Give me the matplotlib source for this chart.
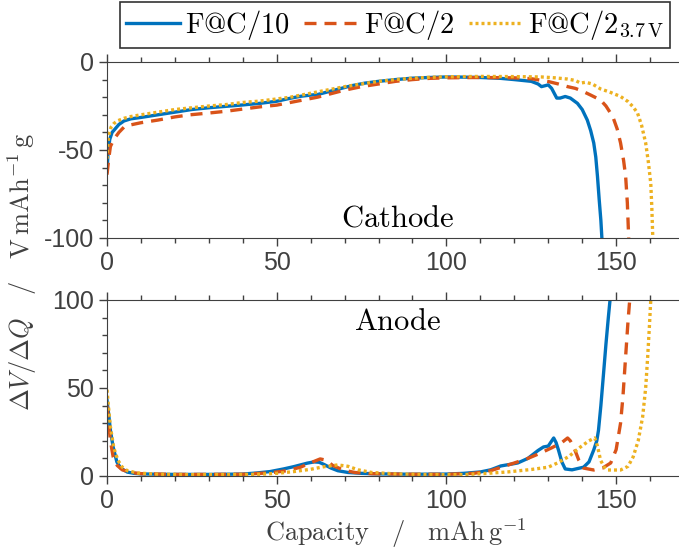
import numpy as np
import matplotlib
matplotlib.use("Agg")
import matplotlib.pyplot as plt

plt.rcParams['mathtext.fontset'] = 'cm'
plt.rcParams['font.family'] = ['Liberation Sans', 'DejaVu Sans']

# series labels / colours
labels = [r'$\mathrm{F@C/10}$', r'$\mathrm{F@C/2}$', r'$\mathrm{F@C/2_{3.7\,V}}$']
colors = ['#0072BD', '#D95319', '#EDB120']

# cathode dV/dQ (capacity, value)
cat_x_10 = [0, 0.3, 0.8, 1.5, 2.4, 3.5, 5, 7, 10, 15, 20, 25, 30, 35, 40, 45, 50, 54, 57, 60, 62, 65, 68,
            72, 76, 80, 85, 90, 95, 100, 105, 110, 116, 120, 125, 127, 128, 129, 130, 131, 132.5, 133.5,
            135, 136.5, 138.6, 140, 141.5, 142.5, 143.4, 144, 144.5, 145, 145.5, 145.8]
cat_y_10 = [-62, -52, -44, -40, -38, -35.5, -33.5, -32.3, -31.5, -30, -28.5, -27, -26, -25.2, -24.4, -23.5,
            -22.3, -20.6, -19.5, -18.8, -18.5, -17, -15.5, -13.5, -12, -11, -10, -9.2, -8.8, -8.5, -8.6,
            -8.8, -9.3, -10, -11, -12.5, -14, -13.5, -13, -15, -20.5, -20.5, -19.6, -20.5, -23.5, -27, -33,
            -39, -46, -54, -65, -78, -90, -100]
cat_x_2 = [0, 0.5, 1, 2, 3.5, 5, 6.8, 10, 15, 20, 24.5, 30, 35, 39, 45, 50, 54, 58, 62, 66, 70, 75, 80,
           85, 90, 95, 100, 110, 120, 125, 129.8, 133, 135.7, 138, 140, 142.5, 145.4, 147, 149, 150.3,
           151.3, 152.2, 152.8, 153.3, 153.7]
cat_y_2 = [-64, -55, -48, -44, -40, -37, -35.8, -34.5, -33, -31.2, -30, -29, -28, -27, -25.5, -24.5, -23,
           -21.5, -20, -18, -16, -14, -12.5, -11, -10, -9.3, -9, -8.8, -9, -9.5, -11, -12.5, -14, -15,
           -16.5, -18.8, -21.6, -25, -31, -38, -46, -56, -65, -80, -100]
cat_x_37 = [0, 0.3, 0.7, 1.2, 2, 3, 5, 7, 10, 15, 20, 25, 30, 35, 40, 45, 50, 54, 58, 62, 66, 70, 75, 80,
            85, 90, 95, 100, 110, 120, 128, 132, 135.7, 138, 139.5, 141, 143, 145.4, 148, 151.3, 153.5,
            155, 156.3, 157.5, 158.7, 159.5, 160.2, 160.5, 160.8]
cat_y_37 = [-55, -45, -40, -37, -35, -33.5, -32, -31, -30, -28.5, -27, -26, -25, -24.2, -23, -22.2, -21,
            -20, -18.5, -17, -15.5, -14, -12.5, -11, -10, -9.2, -8.7, -8.4, -8.2, -8.3, -8.5, -9, -9.7,
            -10.5, -12, -11.5, -12.5, -15.3, -17, -19.6, -22.5, -25.5, -29, -36, -46, -57, -69, -82, -100]

# anode dV/dQ
an_x_10 = [0, 0.5, 1, 1.8, 2.9, 4, 6, 8, 10, 15, 20, 30, 40, 44, 48, 52, 55, 57, 59, 61, 62.5, 64, 66, 68,
           71, 75, 80, 90, 100, 105, 110, 113, 116, 119, 121, 124, 127, 128.6, 130, 131.6, 132.3, 133,
           134, 135, 137, 140.4, 142, 143.4, 144.3, 144.8, 145.5, 146.3, 147, 147.7, 148.2]
an_y_10 = [43, 35, 26, 16.5, 8, 4.5, 2.2, 1.5, 1.2, 1, 0.9, 0.9, 1.1, 1.7, 2.5, 4, 5.3, 6.3, 7.3, 8, 7.8,
           6.5, 4.5, 3, 2, 1.5, 1.2, 1, 1.1, 1.5, 2.3, 3.5, 5.7, 6.7, 7.4, 10, 14.5, 16.5, 17, 21.6, 19,
           14.8, 8, 4, 3.5, 5, 8, 14.8, 20, 26, 40, 58.5, 75, 90, 100]
an_x_2 = [0, 0.5, 1, 1.8, 3, 4.5, 7, 10, 20, 30, 40, 48, 53, 57, 60, 62.8, 64.5, 66.5, 69.6, 73, 78, 90,
          100, 108, 113, 117, 120, 124, 127.7, 131, 134, 135.7, 136.5, 137.5, 139, 140.4, 143.4, 146,
          148.4, 150, 151.3, 152, 152.8, 153.5, 154]
an_y_2 = [40, 30, 20, 11, 6, 3.5, 2, 1.3, 0.9, 0.9, 1, 1.8, 3, 5, 7.5, 9.7, 9, 6, 3.4, 2, 1.3, 1, 1, 1.5,
          3, 5.5, 7.4, 10, 13, 16, 19, 21.6, 20, 16.5, 9, 4.5, 3.4, 4.5, 7.4, 15, 30, 45, 68, 88, 100]
an_x_37 = [0, 0.4, 1, 2, 3.2, 4.5, 6, 9, 15, 25, 35, 45, 50, 55, 60, 64, 68, 71, 74, 78, 85, 95, 105, 112,
           118, 125, 130, 132.7, 136, 139.5, 142, 143.7, 144.5, 145.4, 146.5, 147.5, 151.3, 153.5, 155,
           156.5, 157.8, 158.7, 159.3, 159.8, 160.2]
an_y_37 = [49, 40, 28, 16, 9, 5, 3, 1.7, 1, 0.8, 0.8, 1, 1.5, 2.5, 3.8, 5.3, 6.3, 5.5, 3.5, 2, 1.2, 0.8,
           0.8, 1.5, 2.3, 3.7, 5, 7.4, 11, 16.5, 20, 21.6, 17, 9, 5, 3.4, 3.4, 5.5, 10.8, 20, 33.5, 50,
           68, 85, 100]

cathode = [(cat_x_10, cat_y_10), (cat_x_2, cat_y_2), (cat_x_37, cat_y_37)]
anode = [(an_x_10, an_y_10), (an_x_2, an_y_2), (an_x_37, an_y_37)]

gray = '#404040'
styles = [dict(linestyle='-'),
          dict(linestyle=(0, (3.6, 2.4))),
          dict(linestyle=(0, (0.9, 0.9)))]

fig = plt.figure(figsize=(6.79, 5.54), dpi=100)
ax1 = fig.add_axes([0.1576, 0.5704, 0.8498, 0.3177])
ax2 = fig.add_axes([0.1576, 0.1408, 0.8498, 0.3177])

handles = []
for ax, data in [(ax1, cathode), (ax2, anode)]:
    for (x, y), c, st, lab in zip(data, colors, styles, labels):
        h, = ax.plot(x, y, color=c, lw=2.4, dash_capstyle='butt', label=lab, **st)
        if ax is ax1:
            handles.append(h)

ax1.set_ylim(-100, 0)
ax1.set_yticks([-100, -50, 0])
ax1.set_yticklabels(['-100', '-50', '0'])
ax2.set_ylim(0, 100)
ax2.set_yticks([0, 50, 100])

for ax in (ax1, ax2):
    ax.set_xlim(0, 170)
    ax.set_xticks([0, 50, 100, 150])
    ax.set_xticks(np.arange(0, 171, 10), minor=True)
    ax.set_yticks(np.arange(ax.get_ylim()[0], ax.get_ylim()[1] + 1, 10), minor=True)
    ax.tick_params(which='both', direction='out', top=True, color=gray, labelcolor=gray,
                   labelsize=18, width=1)
    ax.tick_params(which='major', length=6)
    ax.tick_params(which='minor', length=3.5)
    ax.tick_params(axis='x', which='both', labeltop=False)
    for s in ['top', 'bottom', 'left']:
        ax.spines[s].set_color(gray)
    ax.spines['right'].set_visible(False)

ax1.text(85.5, -89, r'$\mathrm{Cathode}$', ha='center', va='center', fontsize=22)
ax2.text(85.5, 87.5, r'$\mathrm{Anode}$', ha='center', va='center', fontsize=22)

ax2.set_xlabel(r'$\mathrm{Capacity\quad/\quad mAh\,g^{-1}}$', fontsize=19, color=gray, labelpad=2)
fig.text(0.033, 1 - 272 / 554, r'$\Delta V/\Delta Q\quad/\quad\mathrm{V\,mAh^{-1}\,g}$',
         rotation=90, ha='center', va='center', fontsize=19, color=gray)

leg = fig.legend(handles=handles, loc='center', bbox_to_anchor=(395 / 679, 1 - 25 / 554), ncol=3,
                 fontsize=20.5, frameon=True, fancybox=False, handlelength=1.9, handletextpad=0.2,
                 columnspacing=0.5, borderpad=0.2, borderaxespad=0)
leg.get_frame().set_edgecolor('black')
leg.get_frame().set_linewidth(1.2)

fig.savefig('out.png', dpi=100)
